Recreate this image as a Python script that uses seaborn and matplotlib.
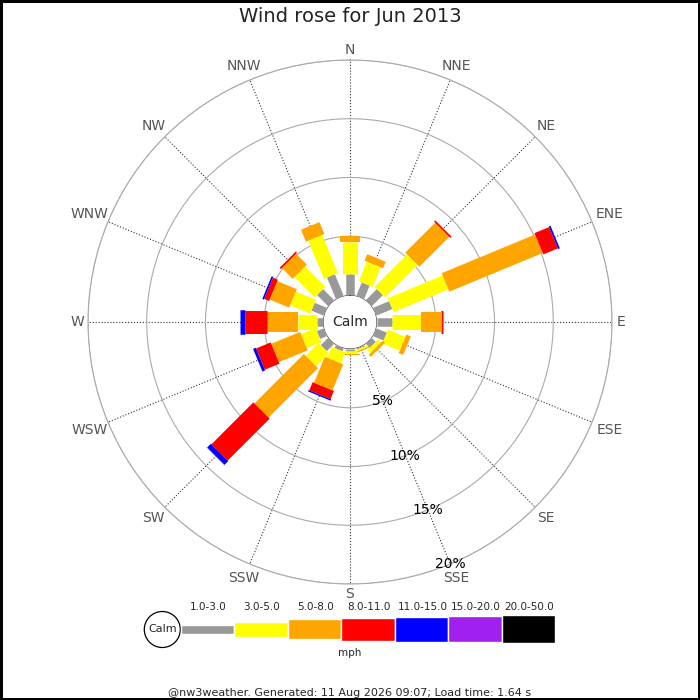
import numpy as np
import matplotlib
matplotlib.use("Agg")
import matplotlib.pyplot as plt
from matplotlib.patches import Circle
import seaborn as sns

sns.set_style("white")
plt.rcParams['font.family'] = ['DejaVu Sans']

# wind directions (clockwise from north)
directions = ['N', 'NNE', 'NE', 'ENE', 'E', 'ESE', 'SE', 'SSE',
              'S', 'SSW', 'SW', 'WSW', 'W', 'WNW', 'NW', 'NNW']
speed_bins = ['1.0-3.0', '3.0-5.0', '5.0-8.0', '8.0-11.0',
              '11.0-15.0', '15.0-20.0', '20.0-50.0']

# percent of time per direction, per speed class (mph)
pct_1_3 = [1.8, 1.2, 1.3, 1.45, 1.3, 0.95, 0.45, 0.1,
           0.15, 0.25, 0.85, 0.6, 0.5, 1.1, 1.3, 1.95]
pct_3_5 = [2.7, 1.8, 3.9, 5.05, 2.45, 1.6, 0.35, 0.15,
           0.25, 1.0, 1.55, 1.35, 1.6, 1.85, 2.45, 3.5]
pct_5_8 = [0.5, 0.6, 3.6, 8.6, 1.7, 0.4, 0.25, 0.1,
           0.15, 2.4, 5.95, 2.65, 2.65, 1.8, 1.3, 1.1]
pct_8_11 = [0.0, 0.0, 0.15, 1.35, 0.15, 0.0, 0.0, 0.0,
            0.0, 0.75, 5.05, 1.35, 1.9, 0.45, 0.15, 0.0]
pct_11_15 = [0.0, 0.0, 0.0, 0.15, 0.0, 0.0, 0.0, 0.0,
             0.0, 0.12, 0.45, 0.25, 0.45, 0.15, 0.0, 0.0]
pct_15_20 = [0.0, 0.0, 0.0, 0.0, 0.0, 0.0, 0.0, 0.0,
             0.0, 0.0, 0.03, 0.0, 0.0, 0.0, 0.0, 0.0]
pct_20_50 = [0.0] * 16

series = [pct_1_3, pct_3_5, pct_5_8, pct_8_11, pct_11_15, pct_15_20, pct_20_50]
colors = sns.color_palette(['#999999', '#ffff00', '#ffa500', '#ff0000',
                            '#0000ff', '#a020f0', '#000000'])
bar_px = [8.5, 15, 20, 23, 24.5, 26, 28]   # bar thickness in pixels

fig = plt.figure(figsize=(7, 7), dpi=100, edgecolor='black', linewidth=2.5)

R_PX = 262
ax = fig.add_axes([0.5 - R_PX / 700, 0.54 - R_PX / 700, 2 * R_PX / 700, 2 * R_PX / 700],
                  projection='polar')
ax.set_theta_zero_location('N')
ax.set_theta_direction(-1)
rorigin = -2.3
ax.set_ylim(0, 20)
ax.set_rorigin(rorigin)
px_per_unit = R_PX / (20 - rorigin)

theta = np.deg2rad(np.arange(16) * 22.5)
ax.set_xticks(theta)
ax.set_xticklabels([])
ax.set_yticks([5, 10, 15, 20])
ax.set_yticklabels([])
ax.tick_params(length=0)
ax.xaxis.grid(True, linestyle=':', color='#333333', linewidth=0.8)
ax.yaxis.grid(True, linestyle='-', color='#aaaaaa', linewidth=0.8)
for name, sp in ax.spines.items():
    if name == 'polar':
        sp.set_color('#aaaaaa')
        sp.set_linewidth(0.8)
    else:
        sp.set_visible(False)
ax.set_axisbelow(True)

# blank the calm hole
ring = np.linspace(0, 2 * np.pi, 200)
ax.fill_between(ring, rorigin, 0.15, color='white', linewidth=0, zorder=2.9)

# stacked radial bars
for i, th in enumerate(theta):
    cum = 0.0
    for k, vals in enumerate(series):
        v = vals[i]
        if v > 0:
            ax.plot([th, th], [cum, cum + v], color=colors[k],
                    linewidth=bar_px[k] * 0.72, solid_capstyle='butt', zorder=3)
            cum += v

# direction labels outside the circle
for lab, th in zip(directions, theta):
    w = 9 * len(lab) + (2 if 'W' in lab else 0)
    r_px = R_PX + 5 + abs(np.sin(th)) * w / 2 + abs(np.cos(th)) * 5
    ax.text(th, r_px / px_per_unit + rorigin, lab, ha='center', va='center',
            color='#555555', fontsize=10)

# percent labels along SSE
for p in [5, 10, 15, 20]:
    ax.text(np.deg2rad(157.5), p, f'{p}%', ha='center', va='center',
            fontsize=10, color='black', zorder=5)

ax.text(0, rorigin, 'Calm', ha='center', va='center', fontsize=10, zorder=5)

fig.text(0.5, 1 - 17 / 700, 'Wind rose for Jun 2013', ha='center', va='center',
         fontsize=14, color='#222222')

# legend strip
lax = fig.add_axes([140 / 700, 1 - 665 / 700, 420 / 700, 65 / 700])
lax.set_xlim(140, 560)
lax.set_ylim(665, 600)
lax.axis('off')
lax.add_patch(Circle((162.3, 629.5), 18, fill=False, edgecolor='black', linewidth=0.9))
lax.text(162.3, 629.5, 'Calm', ha='center', va='center', fontsize=8)
seg_w = 53.5
x0 = 180.7
centers = [x0 + seg_w * (k + 0.5) for k in range(len(speed_bins))]
heights = np.array(bar_px)
lax.bar(centers, heights, width=seg_w, bottom=629.3 - heights / 2, color=colors)
for c, lab in zip(centers, speed_bins):
    lax.text(c + 1, 606.7, lab, ha='center', va='center', fontsize=7.5)
lax.text(350, 653.5, 'mph', ha='center', va='center', fontsize=7.5)

fig.text(0.5, 1 - 693 / 700,
         '@nw3weather. Generated: 11 Aug 2026 09:07; Load time: 1.64 s',
         ha='center', va='center', fontsize=8)

fig.savefig('out.png', dpi=100)
